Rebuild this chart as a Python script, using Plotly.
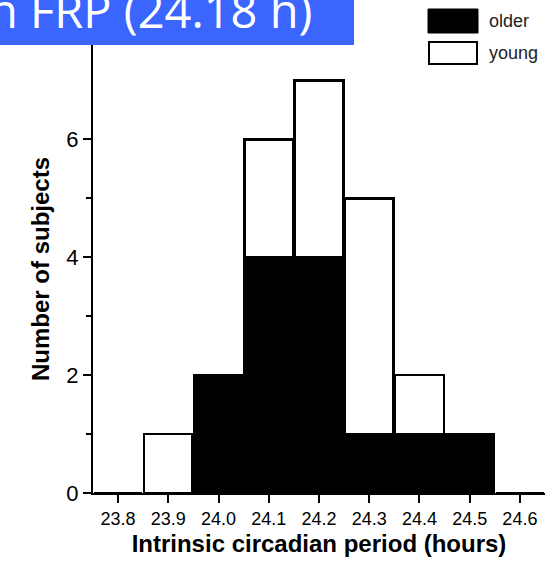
import plotly.graph_objects as go

periods = [23.8, 23.9, 24.0, 24.1, 24.2, 24.3, 24.4, 24.5, 24.6]
tick_labels = ["23.8", "23.9", "24.0", "24.1", "24.2", "24.3", "24.4", "24.5", "24.6"]
older = [0, 0, 2, 4, 4, 1, 1, 1, 0]
young = [0, 1, 0, 2, 3, 4, 1, 0, 0]

W, H = 554, 567
L, R, T, B = 93, 9, 45, 74
pw, ph = W - L - R, H - T - B

def px(x):
    return (x - L) / pw

def py(y):
    return (H - B - y) / ph

fig = go.Figure()
fig.add_bar(x=periods, y=older, name="older", width=0.097,
            marker=dict(color="black", line=dict(color="black", width=2)))
fig.add_bar(x=periods, y=young, name="young", width=0.097,
            marker=dict(color="white", line=dict(color="black", width=2.5)))

font = "Liberation Sans, Arial, sans-serif"
fig.update_layout(
    width=W, height=H, barmode="stack", showlegend=False,
    margin=dict(l=L, r=R, t=T, b=B),
    plot_bgcolor="white", paper_bgcolor="white",
    font=dict(family=font, color="black"),
    xaxis=dict(range=[23.75, 24.65], tickvals=periods, ticktext=tick_labels,
               showgrid=False, zeroline=False, showline=True, linecolor="black", linewidth=2,
               ticks="outside", ticklen=8, tickwidth=2, tickcolor="black",
               tickfont=dict(size=18, family=font),
               title=dict(text="<b>Intrinsic circadian period (hours)</b>", font=dict(size=24, family=font), standoff=8)),
    yaxis=dict(range=[0, 7.6], tickvals=[0, 2, 4, 6],
               showgrid=False, zeroline=False, showline=True, linecolor="black", linewidth=2,
               ticks="outside", ticklen=8, tickwidth=2, tickcolor="black",
               tickfont=dict(size=22, family=font),
               minor=dict(tickvals=[1, 3, 5], ticks="outside", ticklen=5, tickwidth=2, tickcolor="black"),
               title=dict(text="<b>Number of subjects</b>", font=dict(size=24, family=font), standoff=10)),
)

shapes = [
    dict(type="rect", xref="paper", yref="paper", x0=px(-5), x1=px(354), y0=py(45), y1=py(-5),
         fillcolor="#3A66FF", line=dict(width=0), layer="above"),
    dict(type="rect", xref="paper", yref="paper", x0=px(428), x1=px(478), y0=py(33), y1=py(9),
         fillcolor="black", line=dict(color="black", width=1), layer="above"),
    dict(type="rect", xref="paper", yref="paper", x0=px(429), x1=px(477), y0=py(64), y1=py(42),
         fillcolor="white", line=dict(color="black", width=2), layer="above"),
]
fig.update_layout(shapes=shapes)

fig.add_annotation(xref="paper", yref="paper", x=px(-13), y=py(10), xanchor="left", yanchor="middle",
                   text="n FRP (24.18 h)", showarrow=False,
                   font=dict(family="Open Sans, Noto Sans, sans-serif", size=47, color="white"))
fig.add_annotation(xref="paper", yref="paper", x=px(487), y=py(21), xanchor="left", yanchor="middle",
                   text="older", showarrow=False, font=dict(size=18, color="#222", family=font))
fig.add_annotation(xref="paper", yref="paper", x=px(487), y=py(53), xanchor="left", yanchor="middle",
                   text="young", showarrow=False, font=dict(size=18, color="#222", family=font))

fig.write_html("out.html")
